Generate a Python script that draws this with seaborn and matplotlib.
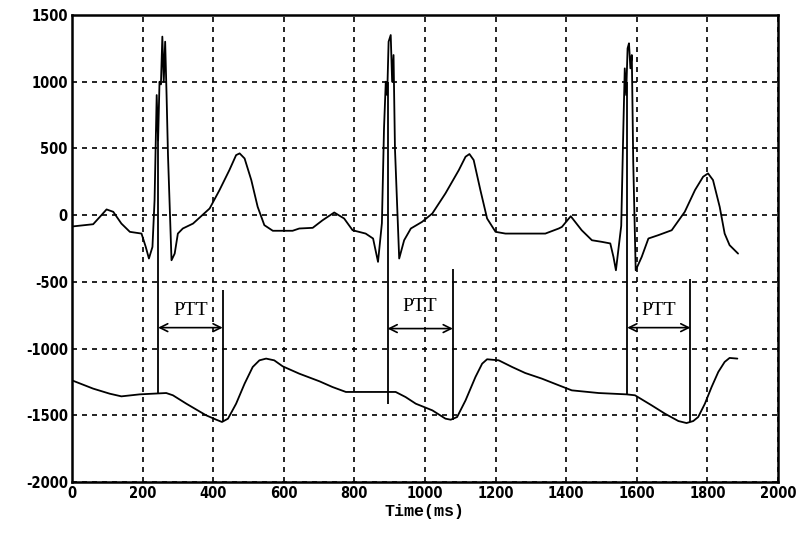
import matplotlib
matplotlib.use("Agg")
import matplotlib.pyplot as plt
import seaborn as sns

# ECG trace (upper), time in ms
ecg_t = [0, 60, 79, 98, 117, 140, 164, 197, 209, 218, 228, 234,
         240, 244, 248, 252, 256, 260, 264, 268, 272, 282,
         291, 300, 314, 343, 390, 418, 446, 465, 475, 489, 508, 526, 545, 569,
         625, 644, 682, 710, 743, 771, 795, 832, 853, 867,
         878, 884, 889, 893, 897, 903, 907, 911, 915, 927,
         941, 960, 992, 1021, 1058, 1096, 1115, 1126, 1138, 1157, 1176, 1200,
         1228, 1341, 1379, 1388, 1413, 1444, 1473, 1501, 1525, 1534, 1541,
         1556, 1562, 1566, 1570, 1574, 1578, 1582, 1586, 1590, 1597,
         1614, 1633, 1661, 1699, 1736, 1765, 1788, 1802, 1816, 1835, 1849,
         1863, 1887]
ecg_v = [-85, -68, -13, 43, 25, -63, -125, -138, -238, -325, -238, 113,
         900, 560, 1000, 980, 1338, 1000, 1300, 900, 450, -338,
         -288, -138, -100, -63, 50, 188, 338, 450, 463, 425, 263, 63, -75, -117,
         -117, -100, -95, -38, 20, -25, -113, -138, -175, -350,
         -60, 650, 1000, 900, 1300, 1350, 1000, 1200, 500, -325,
         -188, -100, -50, 13, 163, 338, 438, 458, 413, 188, -25, -125,
         -138, -138, -100, -88, -8, -113, -188, -200, -212, -313, -413,
         -80, 650, 1100, 900, 1250, 1288, 1100, 1200, 400, -413,
         -313, -175, -150, -113, 25, 188, 288, 313, 263, 62, -138,
         -225, -288]

# PPG trace (lower)
ppg_t = [0, 60, 107, 140, 192, 267, 286, 324, 380, 409, 425, 442, 465, 489,
         512, 531, 550, 573, 597, 644, 701, 738, 776, 889, 917, 945, 974,
         1021, 1058, 1073, 1091, 1115, 1143, 1162, 1176, 1209, 1247, 1284,
         1331, 1379, 1416, 1492, 1571, 1595, 1642, 1680, 1718, 1741, 1760,
         1774, 1793, 1812, 1831, 1849, 1863, 1885]
ppg_v = [-1238, -1300, -1338, -1358, -1343, -1333, -1350, -1413, -1500,
         -1533, -1550, -1525, -1413, -1263, -1138, -1088, -1075, -1088,
         -1133, -1188, -1245, -1288, -1325, -1325, -1325, -1363, -1413,
         -1463, -1525, -1533, -1513, -1388, -1213, -1113, -1080, -1088,
         -1138, -1183, -1225, -1275, -1313, -1333, -1343, -1350, -1425,
         -1488, -1543, -1558, -1543, -1513, -1413, -1288, -1175, -1100,
         -1070, -1075]

# PTT markers: R-wave line and PPG foot line per beat
r_line_t = [244, 894, 1573]
r_line_top = [600, 1000, 1000]
r_line_bottom = [-1338, -1413, -1343]
foot_line_t = [427, 1079, 1752]
foot_line_top = [-563, -400, -475]
foot_line_bottom = [-1550, -1538, -1550]
arrow_v = [-843, -850, -843]
label_v = [-713, -688, -713]

x_ticks = list(range(0, 2001, 200))
y_ticks = list(range(-2000, 1501, 500))

sns.set_theme(style="white")
plt.rcParams["font.family"] = ["DejaVu Sans"]

fig = plt.figure(figsize=(7.97, 5.36), dpi=100)
ax = fig.add_axes([0.0903, 0.1007, 0.8858, 0.8713])

sns.lineplot(x=ecg_t, y=ecg_v, sort=False, estimator=None, color="black",
             linewidth=1.3, ax=ax)
sns.lineplot(x=ppg_t, y=ppg_v, sort=False, estimator=None, color="black",
             linewidth=1.3, ax=ax)

ax.vlines(r_line_t, r_line_bottom, r_line_top, color="black", linewidth=1.3)
ax.vlines(foot_line_t, foot_line_bottom, foot_line_top, color="black", linewidth=1.3)

for t0, t1, av, lv in zip(r_line_t, foot_line_t, arrow_v, label_v):
    ax.annotate("", xy=(t1, av), xytext=(t0, av),
                arrowprops=dict(arrowstyle="<->", color="black", lw=1.2,
                                shrinkA=0, shrinkB=0, mutation_scale=14))
    ax.text((t0 + t1) / 2, lv, "PTT", ha="center", va="center",
            fontsize=14, family="Liberation Serif", color="black")

ax.set_xlim(0, 2000)
ax.set_ylim(-2000, 1500)
ax.set_xticks(x_ticks)
ax.set_yticks(y_ticks)
tick_font = dict(fontsize=10.5, fontweight="bold", fontstretch="condensed")
ax.set_xticklabels([str(v) for v in x_ticks], **tick_font)
ax.set_yticklabels([str(v) for v in y_ticks], **tick_font)
ax.tick_params(direction="in", length=4, color="black", labelcolor="black", pad=3)

ax.grid(True, color="black", linestyle=(0, (3, 3)), linewidth=1.2)
for spine in ax.spines.values():
    spine.set_color("black")
    spine.set_linewidth(1.8)

ax.set_xlabel("Time(ms)", fontsize=12, fontweight="bold",
              family="Liberation Mono", color="black", labelpad=2)

fig.savefig("out.png", dpi=100)
